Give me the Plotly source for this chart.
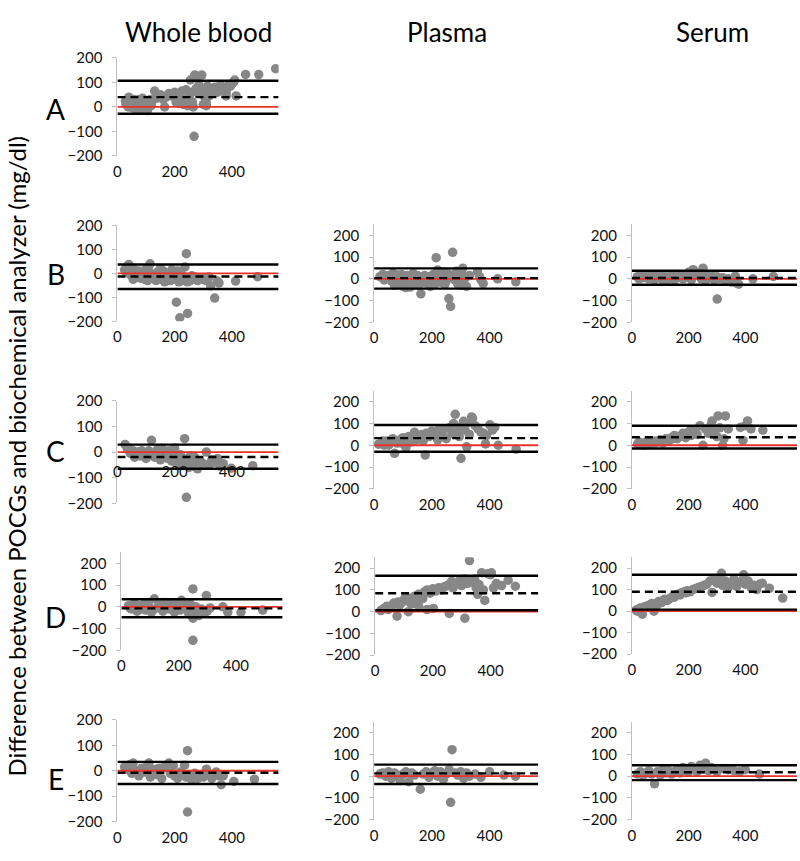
import plotly.graph_objects as go

W, H = 800, 861
FONT = "Lato"

COLUMN_TITLES = ["Whole blood", "Plasma", "Serum"]
ROW_LETTERS = ["A", "B", "C", "D", "E"]
Y_TITLE = "Difference between POCGs and biochemical analyzer (mg/dl)"
X_TICKS = [0, 200, 400]
Y_TICKS = [-200, -100, 0, 100, 200]

# ---- data: (mean, difference) per panel; limits = (upper LoA, mean bias, lower LoA)
A_WB_X = [30, 35, 40, 45, 50, 55, 60, 65, 70, 75,
          80, 85, 90, 95, 100, 105, 110, 115, 120, 130,
          135, 140, 150, 160, 165, 170, 180, 190, 200, 205,
          210, 220, 225, 230, 240, 245, 250, 255, 260, 265,
          270, 275, 280, 285, 290, 295, 300, 305, 310, 315,
          320, 330, 340, 350, 360, 370, 380, 390, 400, 405,
          410, 415, 448, 494, 553, 268, 311,
          28, 38, 48, 58, 68, 78, 88, 98, 108, 118,
          215, 235, 250, 262, 285, 300, 320, 350, 380, 395]
A_WB_Y = [10, 20, 40, 5, 15, -5, 25, 10, 0, 30,
          15, -10, 20, 5, 25, -15, 10, 30, 20, 65,
          35, 45, 50, 30, 0, 40, 55, 45, 60, 20,
          50, 35, 65, 10, 70, 5, 40, 110, 60, 0,
          130, 75, 125, 90, 60, 130, 70, 40, 20, 85,
          70, 55, 80, 75, 90, 65, 60, 90, 95, 100,
          110, 45, 133, 132, 156, -120, 5,
          25, 0, 20, 30, -10, 20, 35, -5, 15, 5,
          15, 25, 45, 20, 55, 10, 45, 60, 45, 85]
A_WB_LIM = [107, 40, -28]

B_WB_X = [25, 30, 35, 40, 45, 50, 55, 60, 65, 70,
          75, 80, 85, 90, 95, 100, 105, 110, 114, 120,
          125, 130, 135, 140, 145, 150, 155, 160, 165, 170,
          175, 180, 185, 190, 195, 200, 205, 210, 215, 220,
          225, 230, 236, 241, 245, 250, 255, 260, 265, 270,
          280, 290, 300, 304, 310, 320, 326, 340, 349, 355,
          413, 490, 206, 218, 245,
          40, 60, 80, 100, 120, 140, 160, 180, 200, 220]
B_WB_Y = [15, 5, 30, 37, -5, 10, -25, 5, 0, -15,
          10, -20, 5, -10, -25, 0, -30, 10, 40, -5,
          -20, -10, -30, 5, -15, 20, -25, -5, -35, 0,
          -20, -10, -30, 15, -25, -5, -15, 10, -35, -20,
          -30, -10, 27, 82, -35, -20, -30, -10, -25, -15,
          -30, -20, -25, -20, -30, -15, -52, -103, -32, -40,
          -32, -14, -120, -185, -167,
          0, 15, -5, 20, -15, 0, 10, -20, -5, -25]
B_WB_LIM = [37, -13, -65]

B_PL_X = [20, 30, 40, 50, 60, 65, 70, 80, 90, 95,
          100, 105, 110, 115, 120, 125, 130, 140, 150, 155,
          160, 162, 170, 180, 190, 200, 205, 210, 215, 220,
          225, 230, 235, 240, 245, 250, 255, 259, 265, 270,
          272, 280, 285, 290, 295, 300, 305, 307, 310, 315,
          320, 330, 358, 365, 370, 378, 428, 491,
          35, 55, 75, 85, 135, 145, 175, 195, 245, 285]
B_PL_Y = [10, 20, 5, 15, -10, 25, -30, 10, -15, 20,
          -35, 5, -40, 15, -20, -38, 10, -10, 15, -30,
          5, -69, 0, -20, 10, 5, 20, -25, 97, 40,
          -15, 10, 30, -20, 0, -10, 25, -91, -127, 15,
          122, -5, 35, -25, 10, -30, 20, 48, -10, 5,
          -35, 15, 33, 10, -5, -22, 0, -14,
          -5, 0, 20, -25, 25, -15, 15, -35, -25, 0]
B_PL_LIM = [48, 3, -45]

B_SE_X = [20, 30, 40, 50, 60, 70, 80, 90, 100, 110,
          120, 130, 140, 150, 160, 170, 180, 190, 200, 210,
          216, 220, 230, 240, 245, 251, 255, 260, 270, 280,
          290, 300, 301, 310, 320, 330, 340, 350, 360, 365,
          370, 377, 427, 499,
          25, 45, 65, 85, 105, 125, 145, 165, 185, 205]
B_SE_Y = [10, 15, 5, 20, 0, 10, -5, 15, 5, -10,
          10, 0, 15, -5, 5, 10, 0, 20, 30, -5,
          42, 35, 15, 25, 0, 49, 20, -10, 5, 15,
          -5, 10, -93, 0, 5, -10, 0, -15, -5, 13,
          -20, -25, 0, 11,
          0, 10, 20, 5, 15, -5, 10, 20, 5, 15]
B_SE_LIM = [37, 4, -27]

C_WB_X = [27, 35, 45, 55, 60, 70, 80, 90, 100, 110,
          119, 125, 130, 140, 150, 160, 170, 180, 190, 200,
          205, 210, 215, 220, 225, 230, 235, 241, 245, 250,
          255, 260, 265, 270, 280, 290, 300, 311, 320, 330,
          340, 350, 360, 370, 398, 473,
          40, 65, 85, 105, 135, 145, 155, 175, 195, 215]
C_WB_Y = [29, 10, -5, 5, -20, 0, -15, -5, -25, 5,
          46, -10, -20, 10, -30, -5, -15, 5, -35, 15,
          -40, -20, -50, -10, -30, -45, 52, -176, -25, -60,
          -15, -40, -55, -20, -65, -35, -45, 0, -50, -30,
          -40, -25, -55, -45, -63, -53,
          15, -10, 5, -15, 0, -20, 15, -25, -10, -30]
C_WB_LIM = [29, -19, -65]

C_PL_X = [15, 25, 35, 45, 55, 65, 71, 80, 90, 100,
          110, 115, 120, 130, 140, 150, 160, 170, 177, 180,
          190, 200, 210, 220, 225, 230, 240, 250, 260, 270,
          275, 281, 290, 295, 300, 301, 310, 315, 320, 321,
          330, 338, 341, 350, 360, 370, 380, 386, 390, 401,
          410, 418, 430, 492,
          30, 50, 60, 75, 95, 105, 125, 135, 145, 165]
C_PL_Y = [5, 10, 0, 20, 15, 30, -37, 10, 25, 35,
          -10, 20, 40, 15, 60, 30, 45, 20, -45, 55,
          40, 65, 50, 25, 75, 45, 70, 30, 80, 55,
          100, 142, 65, 40, 85, -60, 110, 70, 100, -7,
          50, 130, 124, 90, 75, 60, 55, 6, 45, 94,
          70, 82, 0, -18,
          20, 0, 25, 15, 10, 30, 20, 35, 25, 50]
C_PL_LIM = [93, 33, -30]

C_SE_X = [20, 30, 40, 50, 60, 70, 80, 90, 100, 110,
          120, 130, 140, 150, 160, 170, 180, 190, 200, 210,
          220, 230, 240, 251, 260, 270, 280, 283, 290, 300,
          304, 310, 320, 325, 330, 340, 383, 392, 400, 408,
          420, 462,
          25, 45, 65, 85, 105, 125, 145, 165, 185, 205]
C_SE_Y = [5, 10, 0, 15, 5, 20, 10, 15, 25, 10,
          30, 20, 35, 45, 30, 40, 55, 35, 60, 45,
          70, 50, 90, 0, 75, 55, 95, 112, 60, 40,
          135, 80, 0, 30, 135, 75, 82, 22, 90, 112,
          75, 70,
          15, 5, 10, 20, 15, 25, 30, 40, 50, 65]
C_SE_LIM = [90, 37, -15]

D_WB_X = [25, 35, 45, 55, 65, 75, 85, 95, 105, 115,
          125, 135, 145, 155, 165, 175, 185, 195, 205, 210,
          215, 225, 235, 240, 245, 250, 250, 250, 255, 260,
          265, 270, 280, 290, 297, 300, 310, 355, 372, 418,
          494,
          30, 50, 70, 90, 110, 130, 150, 170, 190, 230]
D_WB_Y = [5, -10, 15, -20, 0, 10, -15, 5, -25, 37,
          -5, 10, -20, 0, -10, 15, -25, 5, -15, 30,
          10, -5, -30, 15, -20, 82, -52, -154, -35, 0,
          -15, -40, -10, -30, 52, -20, -5, 0, -25, -25,
          -15,
          -5, 10, -10, 15, -15, 5, 20, -5, 10, -10]
D_WB_LIM = [35, -7, -48]

D_PL_X = [20, 30, 40, 50, 60, 70, 76, 80, 90, 100,
          110, 115, 120, 130, 135, 140, 150, 151, 160, 170,
          180, 180, 190, 200, 202, 210, 220, 230, 240, 250,
          257, 260, 270, 280, 290, 300, 310, 311, 320, 327,
          330, 340, 350, 355, 360, 369, 375, 380, 390, 400,
          403, 410, 420, 438, 461, 486,
          45, 65, 85, 105, 125, 145, 165, 185, 265, 345]
D_PL_Y = [5, 15, 25, 20, 30, 35, -20, 45, 40, 55,
          50, 0, 60, 45, 70, 55, 80, 25, 65, 90,
          10, 100, 85, 105, 15, 95, 110, 100, 115, 120,
          -8, 130, 110, 125, 140, 120, 150, -30, 130, 235,
          145, 135, 110, 80, 125, 179, 100, 52, 175, 170,
          179, 110, 130, 120, 145, 117,
          10, 40, 30, 65, 35, 75, 60, 95, 140, 150]
D_PL_LIM = [165, 85, 7]

D_SE_X = [15, 25, 37, 45, 55, 65, 78, 85, 95, 105,
          115, 125, 135, 145, 155, 165, 175, 185, 195, 205,
          215, 225, 235, 245, 255, 265, 275, 283, 290, 300,
          310, 316, 320, 330, 340, 350, 360, 370, 380, 394,
          400, 410, 420, 430, 440, 450, 460, 485, 532,
          20, 30, 50, 70, 90, 110, 130, 150, 170, 190]
D_SE_Y = [5, 10, -14, 20, 25, 30, 0, 35, 45, 40,
          55, 50, 60, 70, 75, 80, 85, 90, 95, 90,
          100, 105, 110, 115, 120, 125, 140, 87, 150, 130,
          145, 176, 120, 140, 110, 130, 150, 115, 135, 169,
          125, 140, 110, 120, 100, 125, 130, 106, 61,
          0, 15, 20, 35, 30, 50, 55, 65, 75, 85]
D_SE_LIM = [169, 90, 7]

E_WB_X = [25, 35, 45, 50, 55, 65, 75, 85, 95, 105,
          110, 115, 125, 135, 145, 155, 165, 175, 180, 185,
          195, 200, 210, 220, 235, 240, 245, 245, 250, 260,
          270, 280, 290, 300, 311, 320, 330, 345, 355, 363,
          370, 407, 479]
E_WB_Y = [15, 5, 25, -10, 30, 0, -20, 10, -5, 20,
          30, -25, 5, -15, 10, -30, 15, 25, 30, -10,
          20, -20, -30, -5, 22, -25, 79, -162, -15, -35,
          -10, -30, -20, -25, 6, -15, -30, -5, -20, -55,
          -20, -42, -33]
E_WB_LIM = [35, -8, -52]

E_PL_X = [20, 30, 40, 50, 60, 70, 80, 90, 100, 110,
          120, 130, 140, 160, 170, 180, 190, 200, 210, 220,
          230, 240, 250, 260, 265, 270, 280, 290, 300, 310,
          320, 330, 350, 370, 400, 450, 490]
E_PL_Y = [10, 15, 0, 20, -10, 15, 5, -20, 10, 20,
          -25, 15, 5, -60, 10, 20, -5, 15, 25, 0,
          20, -15, 10, 30, -120, 122, 15, 5, 20, -10,
          15, 0, 10, -5, 20, 5, 0]
E_PL_LIM = [53, 13, -36]

E_SE_X = [20, 30, 40, 50, 60, 70, 80, 90, 100, 110,
          120, 130, 140, 150, 160, 170, 180, 190, 200, 210,
          220, 230, 240, 250, 260, 270, 280, 290, 300, 320,
          340, 360, 380, 400, 450]
E_SE_Y = [10, 20, 5, 15, 25, 10, -35, 20, 5, 30,
          15, 25, 10, 20, 30, 15, 40, 25, 20, 45,
          30, 20, 50, 35, 60, 25, 40, 30, 20, 35,
          30, 25, 20, 30, 10]
E_SE_LIM = [50, 18, -18]

# ---- panel geometry (pixels): axis left, right end, top, bottom(-200)
panels = [
    ("A", 0, A_WB_X, A_WB_Y, A_WB_LIM, (114, 276, 49, 149), 200, None),
    ("B", 0, B_WB_X, B_WB_Y, B_WB_LIM, (114, 276, 220, 318), 200, None),
    ("B", 1, B_PL_X, B_PL_Y, B_PL_LIM, (372, 537, 219, 319), 250, None),
    ("B", 2, B_SE_X, B_SE_Y, B_SE_LIM, (631, 797, 219, 319), 250, None),
    ("C", 0, C_WB_X, C_WB_Y, C_WB_LIM, (114, 276, 399, 504), 200, 451),
    ("C", 1, C_PL_X, C_PL_Y, C_PL_LIM, (372, 537, 389, 489), 250, None),
    ("C", 2, C_SE_X, C_SE_Y, C_SE_LIM, (631, 797, 389, 489), 250, None),
    ("D", 0, D_WB_X, D_WB_Y, D_WB_LIM, (118, 280, 554, 654), 250, None),
    ("D", 1, D_PL_X, D_PL_Y, D_PL_LIM, (373, 537, 559, 659), 250, None),
    ("D", 2, D_SE_X, D_SE_Y, D_SE_LIM, (631, 797, 559, 658), 250, None),
    ("E", 0, E_WB_X, E_WB_Y, E_WB_LIM, (114, 276, 725, 829), 200, None),
    ("E", 1, E_PL_X, E_PL_Y, E_PL_LIM, (372, 537, 727, 827), 250, None),
    ("E", 2, E_SE_X, E_SE_Y, E_SE_LIM, (631, 797, 727, 827), 250, None),
]
X_SCALE = [0.2875, 0.29, 0.285]  # px per unit per column

fig = go.Figure()
layout = {}
for i, (row, col, xs, ys, lim, (xl, xr, yt, yb), ymax, xpos) in enumerate(panels, start=1):
    xa = "x" if i == 1 else f"x{i}"
    ya = "y" if i == 1 else f"y{i}"
    xmax = (xr - xl) / X_SCALE[col]
    fig.add_trace(go.Scatter(x=xs, y=ys, mode="markers", xaxis=xa, yaxis=ya,
                             marker=dict(color="#878787", size=9.5, line=dict(width=0)),
                             showlegend=False, hoverinfo="skip"))
    fig.add_trace(go.Scatter(x=[0, xmax], y=[0, 0], mode="lines", xaxis=xa, yaxis=ya,
                             line=dict(color="#e8322b", width=1.8), showlegend=False, hoverinfo="skip"))
    up, mn, lo = lim
    for v in (up, lo):
        fig.add_trace(go.Scatter(x=[0, xmax], y=[v, v], mode="lines", xaxis=xa, yaxis=ya,
                                 line=dict(color="black", width=2.4), showlegend=False, hoverinfo="skip"))
    fig.add_trace(go.Scatter(x=[0, xmax], y=[mn, mn], mode="lines", xaxis=xa, yaxis=ya,
                             line=dict(color="black", width=2.4, dash="8px,5px"),
                             showlegend=False, hoverinfo="skip"))
    xkey = "xaxis" if i == 1 else f"xaxis{i}"
    ykey = "yaxis" if i == 1 else f"yaxis{i}"
    xdict = dict(domain=[xl / W, xr / W], range=[0, xmax], tickvals=X_TICKS,
                 showline=False, showgrid=False, zeroline=False, ticks="",
                 tickfont=dict(family=FONT, size=15, color="#111"))
    if xpos is None:
        xdict["anchor"] = ya
        xdict["ticklabelstandoff"] = 5
    else:
        xdict["anchor"] = "free"
        xdict["position"] = 1 - xpos / H
        xdict["ticklabelstandoff"] = 9
    layout[xkey] = xdict
    layout[ykey] = dict(domain=[1 - yb / H, 1 - yt / H], range=[-200, ymax], anchor=xa,
                        tickvals=Y_TICKS, showline=True, linecolor="#bfbfbf", linewidth=1,
                        ticks="outside", ticklen=4, tickcolor="#bfbfbf",
                        showgrid=False, zeroline=False, ticklabelstandoff=7,
                        tickfont=dict(family=FONT, size=15, color="#111"))

annotations = []
for txt, cx in zip(COLUMN_TITLES, [195, 445, 712]):
    annotations.append(dict(text=txt, x=cx / W, y=1 - 22 / H, xref="paper", yref="paper",
                            showarrow=False, xanchor="center", yanchor="middle",
                            font=dict(family=FONT, size=26, color="black")))
for letter, cy in zip(ROW_LETTERS, [101, 270, 450, 620, 785]):
    annotations.append(dict(text=letter, x=52 / W, y=1 - cy / H, xref="paper", yref="paper",
                            showarrow=False, xanchor="center", yanchor="middle",
                            font=dict(family=FONT, size=28, color="black")))
annotations.append(dict(text=Y_TITLE, x=13 / W, y=1 - 456 / H, xref="paper", yref="paper",
                        showarrow=False, textangle=-90, xanchor="center", yanchor="middle",
                        font=dict(family=FONT, size=24, color="black")))

fig.update_layout(width=W, height=H, margin=dict(l=0, r=0, t=0, b=0),
                  paper_bgcolor="white", plot_bgcolor="white", showlegend=False,
                  annotations=annotations, **layout)
fig.write_html("out.html", config={"displayModeBar": False},
               post_script="document.body.style.margin='0';document.body.style.overflow='hidden';")
